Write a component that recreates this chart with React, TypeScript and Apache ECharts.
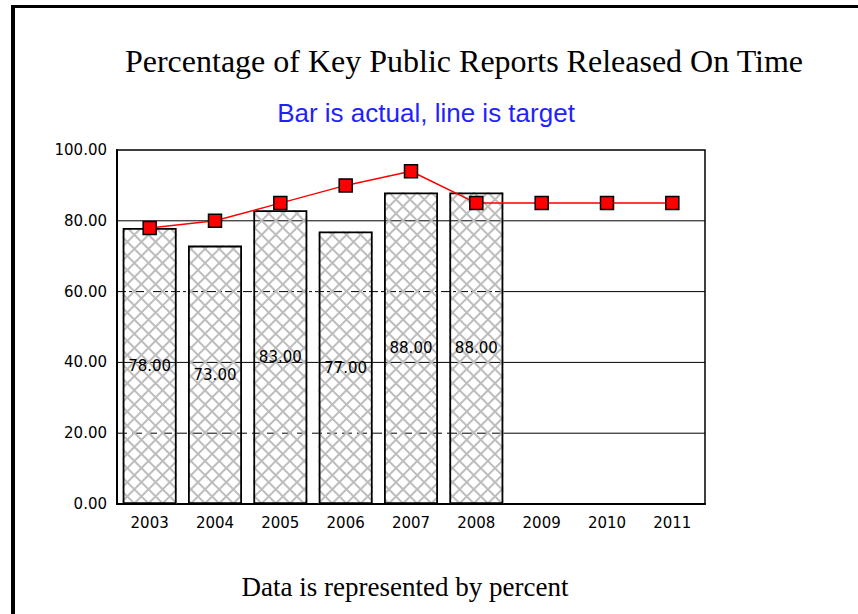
import React, { useEffect, useRef } from 'react';
import * as echarts from 'echarts';

const categories = ['2003', '2004', '2005', '2006', '2007', '2008', '2009', '2010', '2011'];
const actual = [78, 73, 83, 77, 88, 88];
const target = [78, 80, 85, 90, 94, 85, 85, 85, 85];
const yMin = 0;
const yMax = 100;
const yInterval = 20;
const solidGrid = [40, 80];
const dashedGrid = 20;
const dashDotGrid = 60;

const titleText = 'Percentage of Key Public Reports Released On Time';
const subtitleText = 'Bar is actual, line is target';
const footerText = 'Data is represented by percent';

const W = 858;
const H = 614;
const gridL = 117;
const gridR = 153;
const gridT = 150;
const gridB = 110;
const barW = 54;

export default function App() {
  const ref = useRef<HTMLDivElement>(null);
  useEffect(() => {
    const chart = echarts.init(ref.current as HTMLDivElement, null, { renderer: 'svg', width: W, height: H });
    const catW = (W - gridL - gridR) / categories.length;
    const splitX = actual.length - 1 + barW / 2 / catW;
    const xLo = -0.5;
    const xHi = categories.length - 0.5;
    const gl = (data: number[][], type: any) => ({
      type: 'line',
      xAxisIndex: 1,
      yAxisIndex: 0,
      data,
      symbol: 'none',
      silent: true,
      z: 1,
      lineStyle: { color: '#000', width: 1, type },
    });
    const gridSeries: any[] = [];
    solidGrid.forEach((v) => gridSeries.push(gl([[xLo, v], [xHi, v]], 'solid')));
    gridSeries.push(gl([[xLo, dashedGrid], [splitX, dashedGrid]], [10, 5]));
    gridSeries.push(gl([[splitX, dashedGrid], [xHi, dashedGrid]], 'solid'));
    gridSeries.push(gl([[xLo, dashDotGrid], [splitX, dashDotGrid]], [9, 3, 3, 3]));
    gridSeries.push(gl([[splitX, dashDotGrid], [xHi, dashDotGrid]], 'solid'));

    const decal = (rot: number) => ({
      symbol: 'rect',
      symbolSize: 1,
      color: '#bdbdbd',
      dashArrayX: [1, 0],
      dashArrayY: [1.5, 7.5],
      rotation: rot,
    });

    const labelFont = { fontFamily: 'DejaVu Sans', fontSize: 15, color: '#000' };

    const hatchBar = (name: string, rot: number) => ({
      type: 'bar',
      name,
      data: actual,
      barWidth: barW,
      barGap: '-100%',
      z: 2,
      silent: true,
      itemStyle: { color: 'rgba(0,0,0,0)', borderWidth: 0, decal: decal(rot) },
    });

    chart.setOption({
      animation: false,
      backgroundColor: '#fff',
      grid: {
        left: gridL,
        right: gridR,
        top: gridT,
        bottom: gridB,
        show: true,
        borderColor: '#000',
        borderWidth: 1.5,
        backgroundColor: 'transparent',
      },
      xAxis: [
        {
          type: 'category',
          data: categories,
          axisLine: { show: true, onZero: false, lineStyle: { color: '#000', width: 2 } },
          axisTick: { show: false },
          axisLabel: { ...labelFont, margin: 11 },
          splitLine: { show: false },
        },
        { type: 'value', min: xLo, max: xHi, show: false, axisLine: { onZero: false } },
      ],
      yAxis: {
        type: 'value',
        min: yMin,
        max: yMax,
        interval: yInterval,
        axisLine: { show: true, onZero: false, lineStyle: { color: '#000', width: 2 } },
        axisTick: { show: false },
        splitLine: { show: false },
        axisLabel: { ...labelFont, margin: 10, formatter: (v: number) => v.toFixed(2) },
      },
      series: [
        ...gridSeries,
        hatchBar('Hatch A', Math.PI / 4),
        hatchBar('Hatch B', -Math.PI / 4),
        {
          type: 'bar',
          name: 'Actual',
          data: actual,
          barWidth: barW,
          barGap: '-100%',
          z: 3,
          itemStyle: { color: 'rgba(0,0,0,0)', borderColor: '#000', borderWidth: 1.8 },
          label: {
            show: true,
            position: 'inside',
            formatter: (p: any) => Number(p.value).toFixed(2),
            ...labelFont,
          },
        },
        {
          type: 'line',
          name: 'Target',
          data: target,
          z: 5,
          symbol: 'rect',
          symbolSize: 13,
          lineStyle: { color: '#ff0000', width: 1.5 },
          itemStyle: { color: '#ff0000', borderColor: '#000', borderWidth: 1.5 },
        },
      ],
      graphic: [
        { type: 'rect', shape: { x: 11, y: 5, width: W - 11, height: 3 }, style: { fill: '#000' }, silent: true },
        { type: 'rect', shape: { x: 11, y: 5, width: 4, height: H - 5 }, style: { fill: '#000' }, silent: true },
        {
          type: 'text',
          x: 464,
          y: 61,
          style: { text: titleText, font: '32px "Liberation Serif"', fill: '#000', textAlign: 'center', textVerticalAlign: 'middle' },
        },
        {
          type: 'text',
          x: 426,
          y: 113,
          style: { text: subtitleText, font: '26px "Liberation Sans"', fill: '#1f1fff', textAlign: 'center', textVerticalAlign: 'middle' },
        },
        {
          type: 'text',
          x: 405,
          y: 587,
          style: { text: footerText, font: '27px "Liberation Serif"', fill: '#000', textAlign: 'center', textVerticalAlign: 'middle' },
        },
      ],
    });
    return () => chart.dispose();
  }, []);
  return <div ref={ref} style={{ position: 'fixed', left: 0, top: 0, width: W, height: H }} />;
}
